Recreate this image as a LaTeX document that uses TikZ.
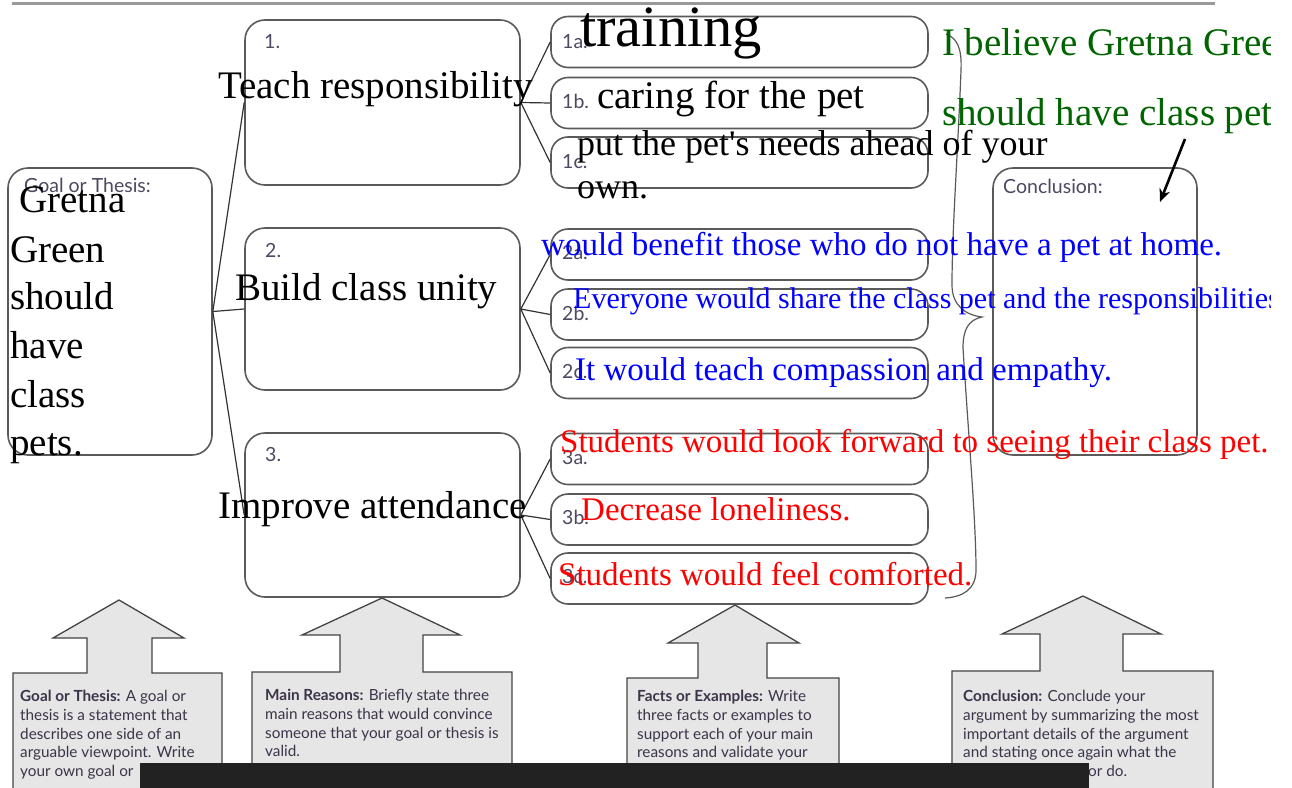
\documentclass[tikz,border=0pt]{standalone}
\usepackage{fontspec}
\setmainfont{Liberation Serif}[Ligatures=TeXOff]
\newfontfamily\smallsans{Lato}
\usetikzlibrary{arrows.meta}
\definecolor{boxline}{HTML}{5A5A5A}
\definecolor{lblcol}{HTML}{4E4862}
\definecolor{arrowfill}{HTML}{E6E6E6}
\definecolor{arrowline}{HTML}{444444}
\definecolor{greentxt}{HTML}{006400}
\definecolor{bluetxt}{HTML}{0000FF}
\definecolor{redtxt}{HTML}{FF0000}
\definecolor{barcol}{HTML}{222222}
\definecolor{hinttxt}{HTML}{3C3448}
\begin{document}
\begin{tikzpicture}[x=1pt,y=-1pt,
  bigbox/.style={draw=boxline, line width=1.6pt, rounded corners=20pt, minimum width=275pt, inner sep=0pt},
  sidebox/.style={draw=boxline, line width=1.6pt, rounded corners=20pt, minimum width=204pt, minimum height=287pt, inner sep=0pt},
  smallbox/.style={draw=boxline, line width=1.6pt, rounded corners=17pt, minimum width=377pt, minimum height=51pt, inner sep=0pt},
  conn/.style={draw=black!80, line width=1.2pt},
  lbl/.style={anchor=base west, inner sep=0pt, text=lblcol, font=\smallsans\fontsize{19.5}{21}\selectfont},
  mtxt/.style={anchor=base west, inner sep=0pt, font=\fontsize{39}{47}\selectfont},
  ctxt/.style={anchor=base west, inner sep=0pt, font=\fontsize{33}{40}\selectfont},
  hint/.style={anchor=north west, inner sep=0pt, align=left, text=hinttxt, font=\smallsans\fontsize{15.3}{18.8}\selectfont},
  upbox/.style={fill=arrowfill, draw=arrowline, line width=1.3pt},
  bracestyle/.style={draw=boxline, line width=1.2pt},
]
\clip (0,0) rectangle (1292,787);
\fill[white] (0,0) rectangle (1292,787);

% top rule
\draw[line width=3pt, draw=black!40] (12,3) -- (1215,3);

% main boxes
\node[sidebox] (goal) at (110,311.5) {};
\node[sidebox] (concl) at (1095,311.5) {};
\node[bigbox, minimum height=165pt] (b1) at (382.5,102.5) {};
\node[bigbox, minimum height=162pt] (b2) at (382.5,309) {};
\node[bigbox, minimum height=164pt] (b3) at (382.5,515) {};

\node[smallbox] (s1a) at (739.5,42) {};
\node[smallbox] (s1b) at (739.5,103) {};
\node[smallbox] (s1c) at (739.5,162.5) {};
\node[smallbox] (s2a) at (739.5,254.5) {};
\node[smallbox] (s2b) at (739.5,314.5) {};
\node[smallbox] (s2c) at (739.5,373) {};
\node[smallbox] (s3a) at (739.5,459) {};
\node[smallbox] (s3b) at (739.5,519.5) {};
\node[smallbox] (s3c) at (739.5,578.5) {};

% connectors
\draw[conn] (goal.east) -- (b1.west);
\draw[conn] (goal.east) -- (b2.west);
\draw[conn] (goal.east) -- (b3.west);
\draw[conn] (b1.east) -- (s1a.west);
\draw[conn] (b1.east) -- (s1b.west);
\draw[conn] (b1.east) -- (s1c.west);
\draw[conn] (b2.east) -- (s2a.west);
\draw[conn] (b2.east) -- (s2b.west);
\draw[conn] (b2.east) -- (s2c.west);
\draw[conn] (b3.east) -- (s3a.west);
\draw[conn] (b3.east) -- (s3b.west);
\draw[conn] (b3.east) -- (s3c.west);

% brace
\draw[bracestyle] (946,34) .. controls (957,38) and (962,48) .. (961,70)
  .. controls (958,150) and (952,230) .. (952,285)
  .. controls (952,305) and (965,315) .. (982,317)
  .. controls (968,320) and (963,330) .. (963,348)
  .. controls (968,430) and (976,520) .. (976,570)
  .. controls (976,590) and (962,597) .. (945,598);

% printed labels
\node[lbl] (lgoal) at (24,192) {Goal or Thesis:};
\node[lbl] (lconc) at (1003,193) {Conclusion:};
\node[lbl] (l1) at (264,48) {1.};
\node[lbl] (l2) at (265,257) {2.};
\node[lbl] (l3) at (265,461) {3.};
\node[lbl] (l1a) at (562,48) {1a.};
\node[lbl] (l1b) at (562,108) {1b.};
\node[lbl] (l1c) at (562,168) {1c.};
\node[lbl] (l2a) at (562,259) {2a.};
\node[lbl] (l2b) at (562,320) {2b.};
\node[lbl] (l2c) at (562,378) {2c.};
\node[lbl] (l3a) at (562,464) {3a.};
\node[lbl] (l3b) at (562,524) {3b.};
\node[lbl] (l3c) at (562,583) {3c.};

% bottom up-arrow boxes
\draw[upbox] (13,800) -- (13,673) -- (87,673) -- (87,638) -- (53,638) -- (119,600) -- (184,638) -- (152,638) -- (152,673) -- (222,673) -- (222,800);
\draw[upbox] (252,800) -- (252,672) -- (340,672) -- (340,635) -- (302,635) -- (382,598) -- (460,635) -- (423,635) -- (423,672) -- (512,672) -- (512,800);
\draw[upbox] (627,800) -- (627,678) -- (698,678) -- (698,643) -- (668,643) -- (735,605) -- (799,643) -- (767,643) -- (767,678) -- (839,678) -- (839,800);
\draw[upbox] (952,800) -- (952,671) -- (1040,671) -- (1040,634) -- (1002,634) -- (1083,596) -- (1161,634) -- (1123,634) -- (1123,671) -- (1213,671) -- (1213,800);

\node[hint] (h1) at (20,690) {\textbf{Goal or Thesis:} A goal or\\thesis is a statement that\\describes one side of an\\arguable viewpoint. Write\\your own goal or};
\node[hint] (h2) at (265,689) {\textbf{Main Reasons:} Briefly state three\\main reasons that would convince\\someone that your goal or thesis is\\valid.};
\node[hint] (h3) at (637,690) {\textbf{Facts or Examples:} Write\\three facts or examples to\\support each of your main\\reasons and validate your};
\node[hint] (h4) at (963,690) {\textbf{Conclusion:} Conclude your\\argument by summarizing the most\\important details of the argument\\and stating once again what the\\\hspace*{125pt}or do.};

% typed answers
\node[mtxt] (g1) at (19,212) {Gretna};
\node[mtxt] (g2) at (10,262) {Green};
\node[mtxt] (g3) at (10,309) {should};
\node[mtxt] (g4) at (10,358) {have};
\node[mtxt] (g5) at (10,407) {class};
\node[mtxt] (g6) at (10,455) {pets.};

\node[mtxt] (t1) at (218,98) {Teach responsibility};
\node[mtxt] (t2) at (235,300) {Build class unity};
\node[mtxt] (t3) at (218,518) {Improve attendance};

\node[anchor=base west, inner sep=0pt, font=\fontsize{58.5}{62}\selectfont] (f1a) at (580,46) {training};
\node[mtxt] (f1b) at (597,108) {caring for the pet};
\node[anchor=base west, inner sep=0pt, font=\fontsize{36}{42}\selectfont] (f1c) at (577,155) {put the pet's needs ahead of your};
\node[anchor=base west, inner sep=0pt, font=\fontsize{36}{42}\selectfont] (f1d) at (577,198) {own.};

\begin{scope}
\clip (0,0) rectangle (1270,787);
\node[mtxt, text=greentxt] (c1) at (942,55) {I believe Gretna Green};
\node[mtxt, text=greentxt] (c2) at (942,125) {should have class pets.};
\node[ctxt, text=bluetxt] (f2a) at (541,255) {would benefit those who do not have a pet at home.};
\node[anchor=base west, inner sep=0pt, text=bluetxt, font=\fontsize{30}{35}\selectfont] (f2b) at (573,308) {Everyone would share the class pet and the responsibilities.};
\node[ctxt, text=bluetxt] (f2c) at (575,380) {It would teach compassion and empathy.};
\node[ctxt, text=redtxt] (f3a) at (560,452) {Students would look forward to seeing their class pet.};
\node[ctxt, text=redtxt] (f3b) at (581,520) {Decrease loneliness.};
\node[ctxt, text=redtxt] (f3c) at (558,585) {Students would feel comforted.};
\end{scope}

\coordinate (arrA) at (1185,139);
\coordinate (arrB) at (1160,202);
\draw[line width=2.6pt, -{Stealth[length=13pt,width=11pt]}] (arrA) -- (arrB);

% covering bar
\fill[barcol] (140,763) rectangle (1089,795);
\end{tikzpicture}
\end{document}
